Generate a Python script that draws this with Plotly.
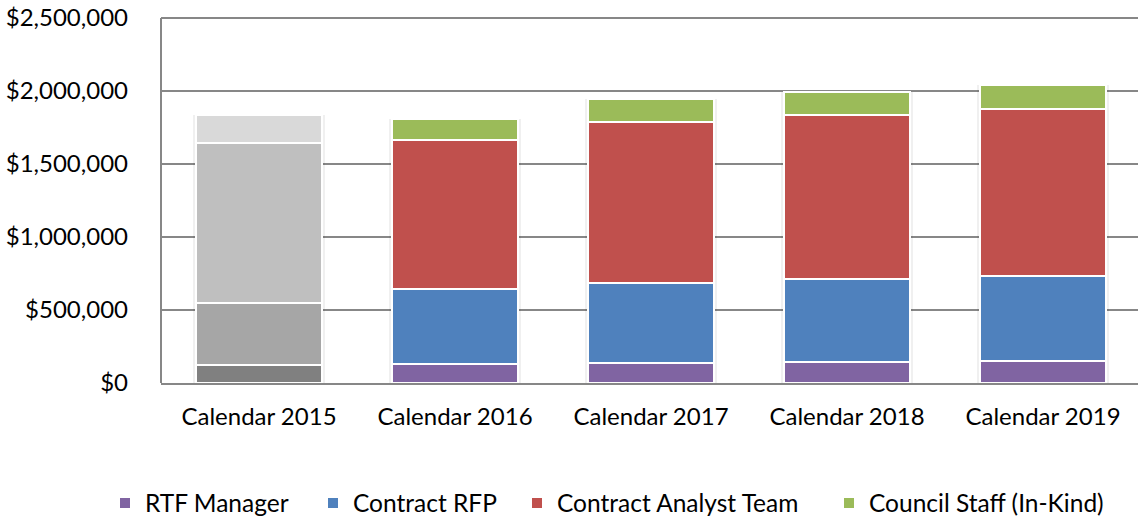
import plotly.graph_objects as go

categories = ["Calendar 2015", "Calendar 2016", "Calendar 2017", "Calendar 2018", "Calendar 2019"]
series_names = ["RTF Manager", "Contract RFP", "Contract Analyst Team", "Council Staff (In-Kind)"]

rtf_manager = [123000, 130000, 137000, 144000, 151000]
contract_rfp = [427000, 512000, 546000, 568000, 584000]
contract_analyst = [1092000, 1022000, 1105000, 1122000, 1140000]
council_staff = [194000, 142000, 157000, 159000, 164000]

series_values = [rtf_manager, contract_rfp, contract_analyst, council_staff]
series_colors = ["#8064a2", "#4f81bd", "#c0504d", "#9bbb59"]
gray_colors_2015 = ["#808080", "#a6a6a6", "#bfbfbf", "#d9d9d9"]

y_ticks = [0, 500000, 1000000, 1500000, 2000000, 2500000]

FONT = "Lato"
W, H = 1138, 522
legend_ids = ["legend", "legend2", "legend3", "legend4"]
legend_left_px = [105, 313, 517, 829]
BAR_W = 0.643

totals = [sum(v[i] for v in series_values) for i in range(len(categories))]

fig = go.Figure()

# soft shadow behind the bars (main x axis, drawn underneath)
fig.add_trace(go.Bar(
    x=categories, y=totals, showlegend=False, hoverinfo="skip",
    marker=dict(color="rgba(0,0,0,0.06)", line=dict(width=0)),
    width=BAR_W + 5 / 196, xaxis="x", yaxis="y",
))

# 2015 bar drawn in grays (not in legend)
for i, name in enumerate(series_names):
    fig.add_trace(go.Bar(
        x=[categories[0]], y=[series_values[i][0]],
        name=name, showlegend=False,
        marker=dict(color=gray_colors_2015[i], line=dict(color="white", width=2)),
        width=BAR_W, xaxis="x2", yaxis="y",
    ))

for i, name in enumerate(series_names):
    fig.add_trace(go.Bar(
        x=categories[1:], y=series_values[i][1:],
        name=name, legend=legend_ids[i],
        marker=dict(color=series_colors[i], line=dict(color="white", width=2)),
        width=BAR_W, xaxis="x2", yaxis="y",
    ))

legend_common = dict(orientation="h", xref="container", yref="container",
                     xanchor="left", yanchor="middle", y=1 - 503 / H,
                     font=dict(family=FONT, size=24.5, color="#000000"),
                     itemwidth=30, bgcolor="rgba(0,0,0,0)")
legend_layout = {}
for lid, px in zip(legend_ids, legend_left_px):
    legend_layout[lid] = dict(legend_common, x=px / W)

left = 161
plot_w = W - left
x_range = [-0.5, -0.5 + plot_w / 196]
top = 15
plot_h = 383 - top
y_max = 2500000 * plot_h / 365

fig.update_layout(
    barmode="stack",
    width=W, height=H,
    margin=dict(l=left, r=0, t=top, b=H - 383, autoexpand=False),
    paper_bgcolor="white", plot_bgcolor="white",
    font=dict(family=FONT, size=24, color="#000000"),
    showlegend=True,
    xaxis=dict(
        categoryorder="array", categoryarray=categories,
        range=x_range, automargin=False,
        showline=True, linecolor="#878787", linewidth=2,
        showgrid=False, ticks="", ticklabelstandoff=11,
        tickfont=dict(family=FONT, size=24, color="#000000"),
    ),
    xaxis2=dict(
        overlaying="x", matches="x", visible=False,
        categoryorder="array", categoryarray=categories,
    ),
    yaxis=dict(
        range=[0, y_max], tickvals=y_ticks, tickformat="$,.0f", automargin=False,
        showline=False,
        showgrid=True, gridcolor="#878787", gridwidth=2,
        zeroline=False, ticks="", ticklabelstandoff=32, ticklabeloverflow="allow",
        tickfont=dict(family=FONT, size=24, color="#000000"),
    ),
    **legend_layout,
)

# left axis line from 0 to the top gridline, as in the reference
fig.add_shape(type="line", xref="paper", yref="y", x0=0, x1=0, y0=0, y1=y_ticks[-1],
              line=dict(color="#878787", width=2), layer="below")

fig.write_html("out.html", config={"displayModeBar": False},
               post_script="document.body.style.margin='0';")
